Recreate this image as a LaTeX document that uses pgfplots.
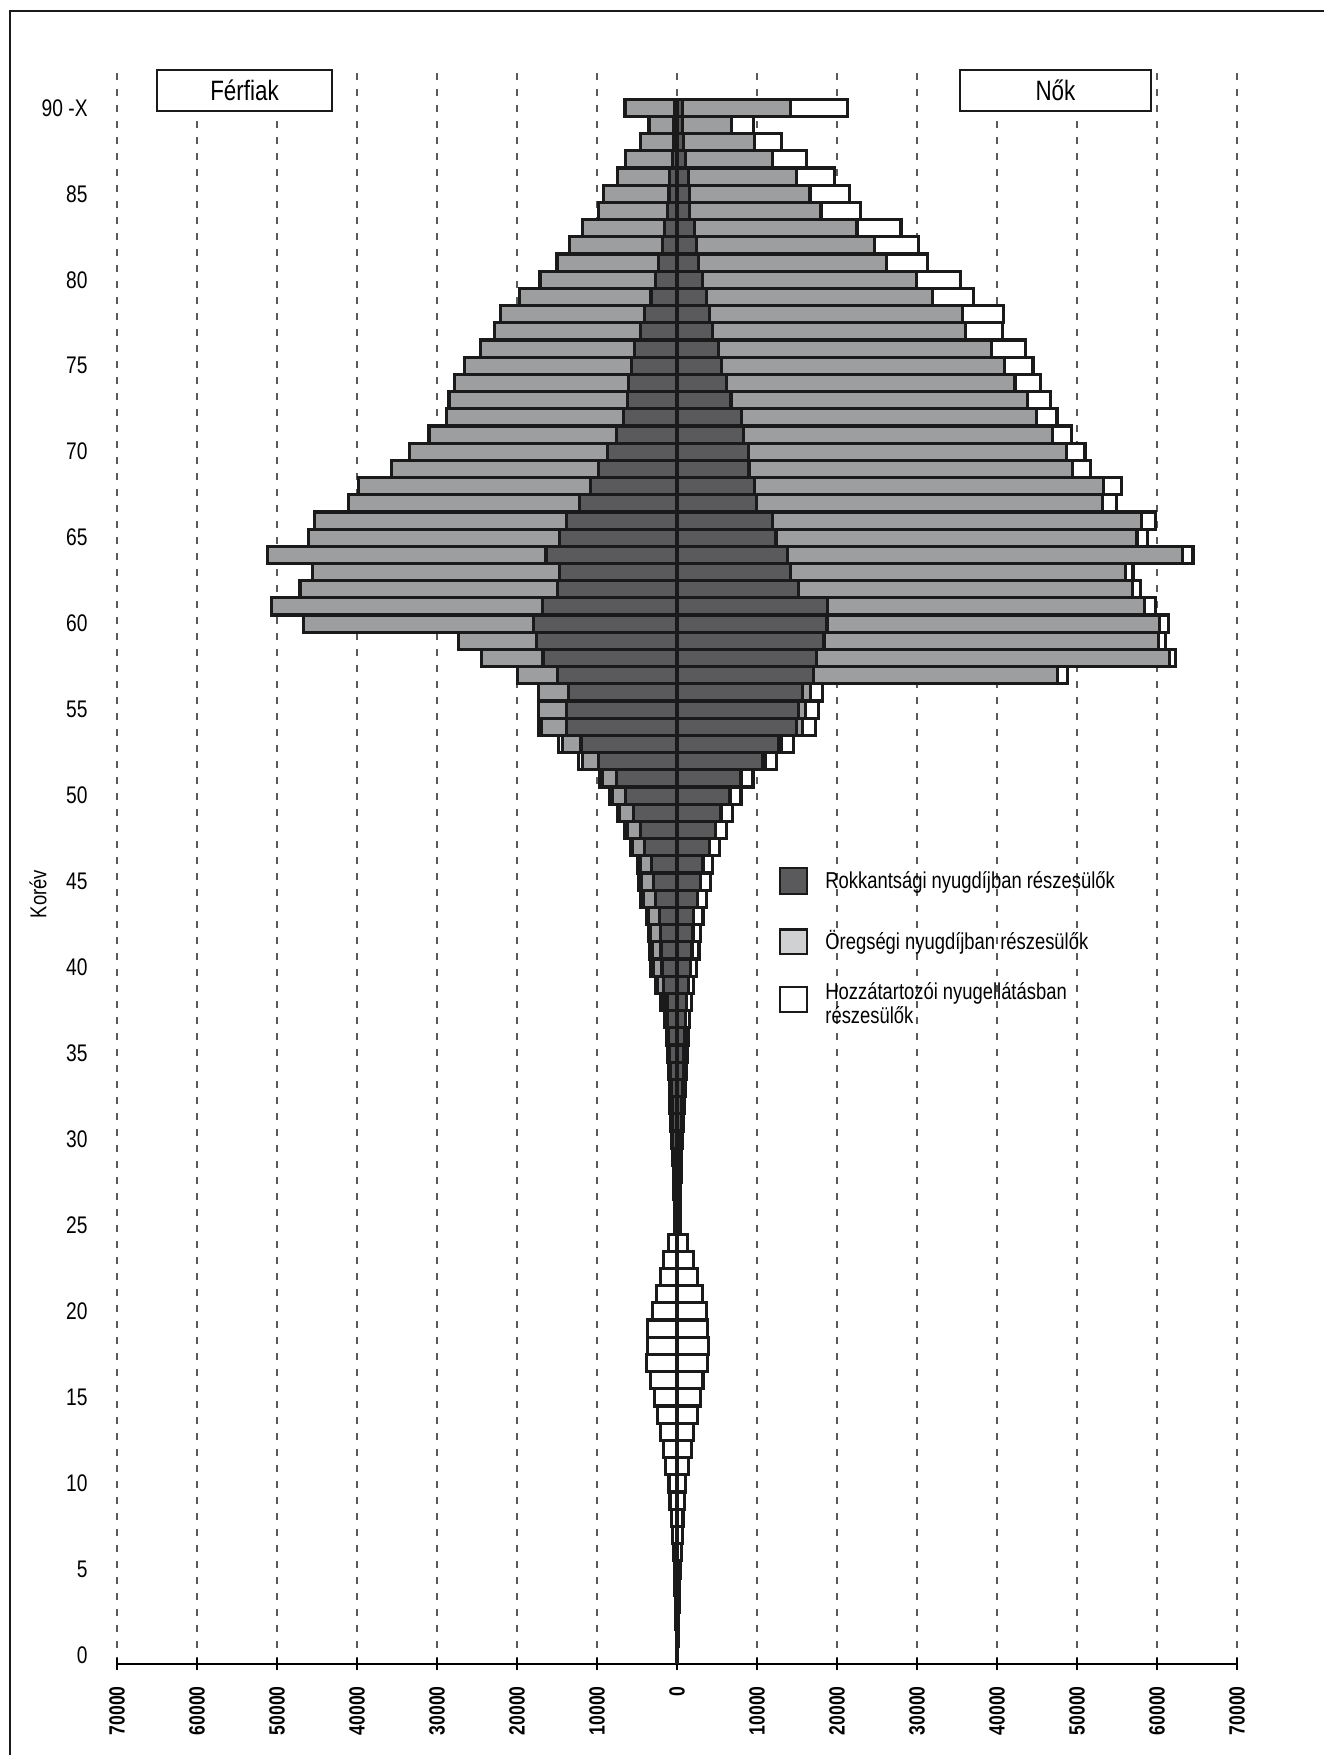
\documentclass[border=0pt]{standalone}
\usepackage{fontspec}
\setmainfont{Liberation Sans}[FakeStretch=0.8]
\usepackage{pgfplots}
\usepackage{pgfplotstable}
\pgfplotsset{compat=1.18}

\definecolor{rokk}{HTML}{5A5A5C}
\definecolor{oreg}{HTML}{9D9EA0}
\definecolor{oreglegend}{HTML}{D0D1D3}
\definecolor{edge}{HTML}{1A1A1A}

% cumulative bar ends: D = rokkantsagi, O = + oregsegi, T = + hozzatartozoi
% men (m) negative, women (w) positive
\pgfplotstableread{
age mD mO mT wD wO wT
0 0 0 -40 0 0 50
1 0 0 -100 0 0 130
2 0 0 -160 0 0 200
3 0 0 -220 0 0 270
4 0 0 -280 0 0 350
5 0 0 -350 0 0 450
6 0 0 -450 0 0 580
7 0 0 -540 0 0 650
8 0 0 -660 0 0 750
9 0 0 -870 0 0 950
10 0 0 -1000 0 0 1100
11 0 0 -1400 0 0 1400
12 0 0 -1700 0 0 1800
13 0 0 -2100 0 0 2100
14 0 0 -2400 0 0 2550
15 0 0 -2850 0 0 2950
16 0 0 -3350 0 0 3250
17 0 0 -3800 0 0 3800
18 0 0 -3700 0 0 3900
19 0 0 -3650 0 0 3800
20 0 0 -3100 0 0 3650
21 0 0 -2550 0 0 3150
22 0 0 -2100 0 0 2600
23 0 0 -1700 0 0 2100
24 0 0 -1100 0 0 1300
25 -230 -230 -280 250 250 370
26 -280 -280 -330 280 280 430
27 -330 -330 -380 300 300 450
28 -400 -440 -460 380 380 580
29 -500 -540 -580 420 420 580
30 -560 -610 -660 480 480 660
31 -590 -650 -750 520 520 790
32 -625 -750 -870 600 600 870
33 -750 -850 -950 720 720 1070
34 -830 -950 -1080 800 800 1150
35 -920 -1080 -1200 880 880 1300
36 -1040 -1200 -1300 1000 1000 1420
37 -1250 -1400 -1500 1100 1100 1580
38 -1250 -1750 -2000 1170 1170 1800
39 -1670 -2450 -2650 1460 1460 2050
40 -1880 -2980 -3250 1670 1670 2450
41 -2000 -3100 -3370 1880 1880 2750
42 -2080 -3300 -3580 2000 2000 2950
43 -2170 -3550 -3800 2080 2080 3250
44 -2710 -4200 -4500 2580 2580 3650
45 -2920 -4500 -4800 2920 2920 4200
46 -3210 -4600 -4900 3250 3250 4400
47 -4040 -5550 -5850 4080 4080 5350
48 -4580 -6200 -6550 4790 4790 6200
49 -5420 -7150 -7450 5420 5520 6950
50 -6430 -8100 -8400 6590 6690 8000
51 -7540 -9300 -9650 7930 8080 9500
52 -9780 -11800 -12300 10720 11040 12400
53 -12010 -14300 -14800 12650 13020 14600
54 -13860 -17000 -17300 14900 15700 17300
55 -13800 -17300 -17300 15170 16080 17700
56 -13580 -17300 -17300 15700 16670 18200
57 -14970 -19970 -19970 17040 47600 48800
58 -16760 -24460 -24460 17420 61530 62300
59 -17600 -27300 -27300 18380 60190 61100
60 -17930 -46730 -46730 18760 60350 61400
61 -16820 -50720 -50720 18810 58420 59800
62 -14920 -47120 -47120 15170 56980 57900
63 -14690 -45590 -45590 14200 56070 57000
64 -16370 -51170 -51170 13830 63140 64500
65 -14690 -46090 -46090 12380 57510 58800
66 -13860 -45310 -45310 11950 58050 59800
67 -12180 -41080 -41080 9920 53220 54900
68 -10780 -39830 -39830 9700 53330 55600
69 -9780 -35730 -35730 9000 49470 51700
70 -8660 -33410 -33410 8900 48670 51000
71 -7540 -30990 -30990 8360 46900 49300
72 -6650 -28850 -28850 8040 44920 47500
73 -6200 -28500 -28500 6750 43840 46700
74 -6090 -27790 -27790 6220 42240 45400
75 -5640 -26540 -26540 5520 40900 44500
76 -5310 -24610 -24610 5150 39290 43600
77 -4530 -22780 -22780 4450 36070 40700
78 -4080 -22030 -22030 4070 35700 40800
79 -3240 -19690 -19690 3640 31950 37100
80 -2680 -17130 -17130 3220 29910 35400
81 -2290 -14990 -14990 2730 26160 31300
82 -1840 -13440 -13440 2470 24660 30200
83 -1560 -11860 -11860 2140 22510 28000
84 -1170 -9770 -9770 1610 18010 22900
85 -1000 -9200 -9200 1610 16620 21600
86 -900 -7400 -7400 1390 14900 19700
87 -600 -6400 -6400 1070 11900 16200
88 -400 -4600 -4600 860 9650 13100
89 -400 -3500 -3500 700 6860 9600
90 -300 -6500 -6500 700 14200 21300
}\pyramid

\begin{document}
\begin{tikzpicture}
\useasboundingbox (-58.5pt,-45.5pt) rectangle (603pt,832pt);
\draw[edge, line width=1.2pt] (-53.5pt,-46pt) -- (-53.5pt,826.5pt) -- (604pt,826.5pt);
\begin{axis}[
    at={(0pt,0pt)}, anchor=south west,
    scale only axis, width=560pt, height=797pt,
    xmin=-70000, xmax=70000, ymin=-0.5, ymax=92.2,
    xbar, bar width=1, bar shift=0pt,
    axis lines*=left,
    x axis line style={-, line width=0.7pt, black},
    y axis line style={draw=none},
    xtick={-70000,-60000,-50000,-40000,-30000,-20000,-10000,0,10000,20000,30000,40000,50000,60000,70000},
    xticklabels={70000,60000,50000,40000,30000,20000,10000,0,10000,20000,30000,40000,50000,60000,70000},
    xtick align=center, major tick length=6pt,
    xtick style={black, line width=0.6pt},
    xticklabel style={rotate=90, anchor=east, inner sep=0pt, font=\fontsize{11}{12}\selectfont\bfseries},
    xticklabel shift=8pt,
    ytick={0,5,10,15,20,25,30,35,40,45,50,55,60,65,70,75,80,85,90},
    yticklabels={0,5,10,15,20,25,30,35,40,45,50,55,60,65,70,75,80,85,90 -X},
    ytick style={draw=none},
    yticklabel style={anchor=east, inner sep=0pt, font=\fontsize{12}{13}\selectfont},
    yticklabel shift=8.5pt,
    ylabel={Korév},
    every axis y label/.style={at={(axis description cs:-0.0705,0.483)}, rotate=90, anchor=center, font=\fontsize{11.5}{12}\selectfont},
    xmajorgrids,
    grid style={dash pattern=on 3.5pt off 4.5pt, line width=0.6pt, black!65},
    scaled x ticks=false,
]
\addplot[fill=white, draw=edge, line width=1.6pt] table[x=mT, y=age] {\pyramid};
\addplot[fill=white, draw=edge, line width=1.6pt] table[x=wT, y=age] {\pyramid};
\addplot[fill=oreg, draw=edge, line width=1.6pt] table[x=mO, y=age] {\pyramid};
\addplot[fill=oreg, draw=edge, line width=1.6pt] table[x=wO, y=age] {\pyramid};
\addplot[fill=rokk, draw=edge, line width=1.6pt] table[x=mD, y=age] {\pyramid};
\addplot[fill=rokk, draw=edge, line width=1.6pt] table[x=wD, y=age] {\pyramid};

% panel titles
\node[draw=edge, line width=1.3pt, fill=white, minimum width=87.5pt, minimum height=20.5pt,
      inner sep=0pt, font=\fontsize{14}{15}\selectfont] at (axis cs:-54060,91.0) {Férfiak};
\node[draw=edge, line width=1.3pt, fill=white, minimum width=95.5pt, minimum height=20.5pt,
      inner sep=0pt, font=\fontsize{14}{15}\selectfont] at (axis cs:47310,91.0) {Nők};

% legend
\draw[edge, line width=1.3pt, fill=rokk] (axis cs:12875,45.78) rectangle (axis cs:16250,44.27);
\draw[edge, line width=1.3pt, fill=oreglegend] (axis cs:12875,42.23) rectangle (axis cs:16250,40.78);
\draw[edge, line width=1.3pt, fill=white] (axis cs:12875,38.86) rectangle (axis cs:16250,37.41);
\node[anchor=west, inner sep=0pt, font=\fontsize{11.5}{10}\selectfont] at (axis cs:18500,44.97) {Rokkantsági nyugdíjban részesülők};
\node[anchor=west, inner sep=0pt, font=\fontsize{11.5}{10}\selectfont] at (axis cs:18500,41.48) {Öregségi nyugdíjban részesülők};
\node[anchor=west, inner sep=0pt, align=left, font=\fontsize{11.5}{10}\selectfont] at (axis cs:18500,37.93) {Hozzátartozói nyugellátásban\\részesülők};
\end{axis}
\end{tikzpicture}
\end{document}
